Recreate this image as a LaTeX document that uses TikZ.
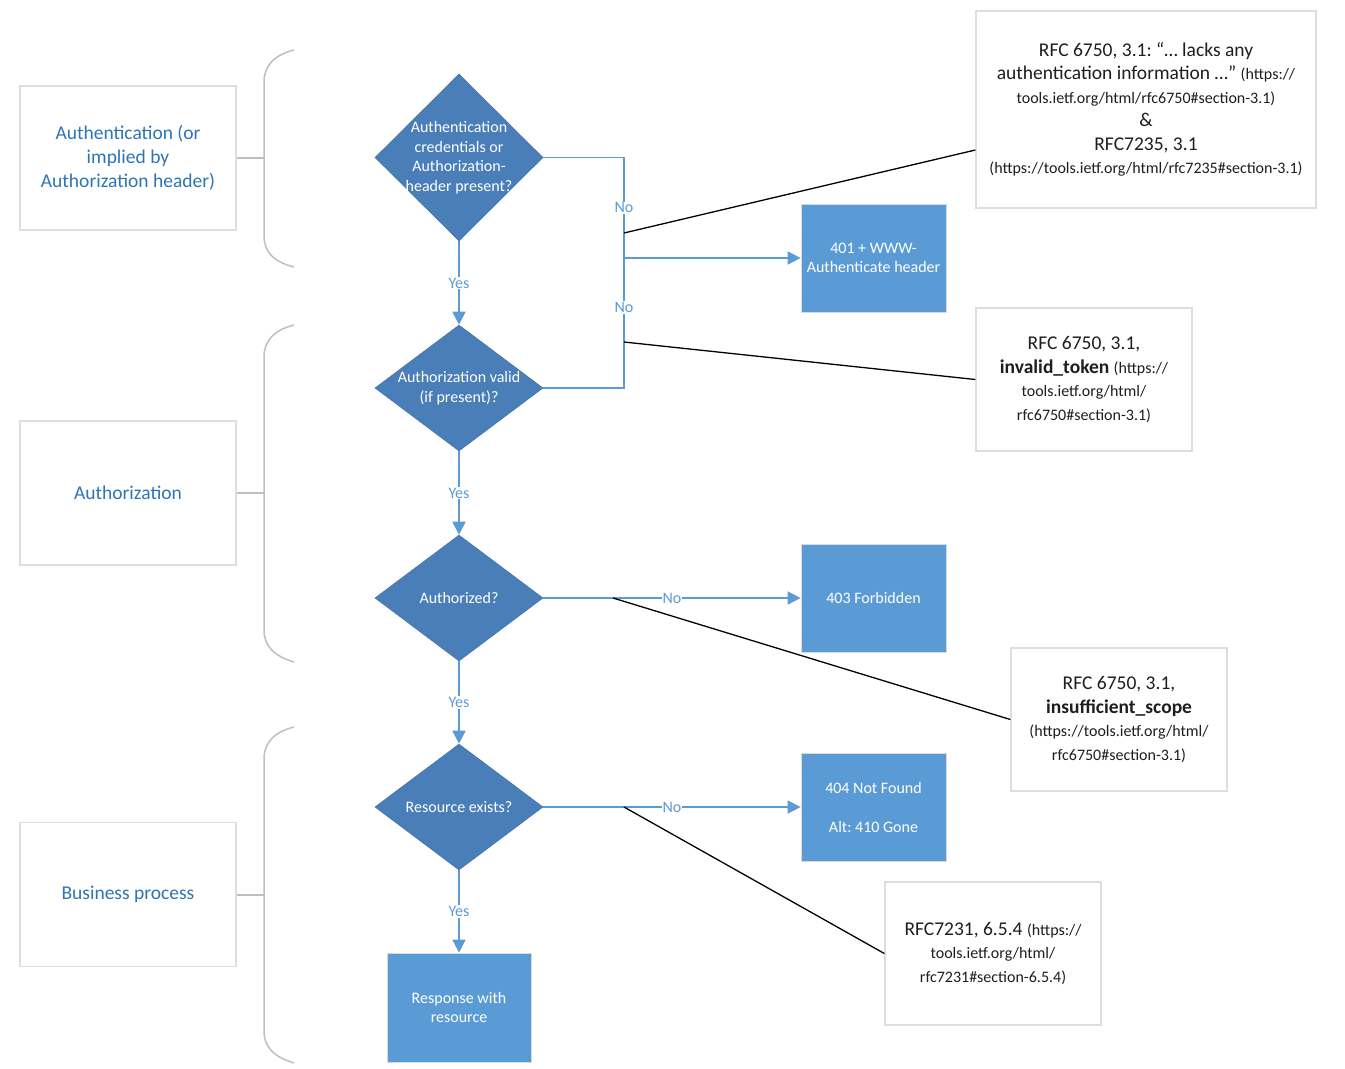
\documentclass[tikz,border=0pt]{standalone}
\usepackage{fontspec}
\setmainfont{Carlito}
\frenchspacing
\usetikzlibrary{shapes.geometric,arrows.meta,calc}
\definecolor{dia}{RGB}{74,126,184}
\definecolor{boxc}{RGB}{91,155,213}
\definecolor{linec}{RGB}{91,155,213}
\definecolor{labtext}{RGB}{46,117,182}
\definecolor{gborder}{RGB}{220,222,226}
\definecolor{bracec}{RGB}{191,191,191}
\definecolor{notetext}{RGB}{30,30,30}
\newcommand{\urlsz}[1]{{\fontsize{16}{23.5}\selectfont #1}}
\begin{document}
\begin{tikzpicture}[x={(1pt,0pt)},y={(0pt,-1pt)},
  decision/.style={shape=diamond, fill=dia, draw=dia!92!black, line width=0.6pt, minimum width=168pt, inner sep=0pt},
  dtext/.style={text=white, font=\fontsize{16}{19.5}\selectfont, align=center, inner sep=0pt},
  outbox/.style={rectangle, fill=boxc, draw=black!15, line width=0.8pt, minimum width=145pt, minimum height=108pt, text=white, font=\fontsize{16}{19.5}\selectfont, align=center},
  phase/.style={rectangle, draw=gborder, line width=1.3pt, fill=white, minimum width=216pt, minimum height=144pt, text=labtext, font=\fontsize{19.5}{24}\selectfont, align=center},
  note/.style={rectangle, draw=gborder, line width=1.3pt, fill=white, text=notetext, font=\fontsize{19.5}{23.5}\selectfont, align=center},
  flow/.style={draw=linec, line width=1.8pt, -{Triangle[length=13pt,width=13pt]}},
  flowline/.style={draw=linec, line width=1.8pt},
  yn/.style={fill=white, text=linec, font=\fontsize{16}{19}\selectfont, inner sep=1pt},
  callout/.style={draw=black, line width=1.3pt},
  bracestyle/.style={draw=bracec, line width=1.5pt}
]
\useasboundingbox[fill=white] (0,0) rectangle (1345,1069);

% phase boxes
\node[phase] (p1) at (128,158) {Authentication (or\\implied by\\Authorization header)};
\node[phase] (p2) at (128,493) {Authorization};
\node[phase] (p3) at (128,894.5) {Business process};

% braces
\draw[bracestyle] (294,50) .. controls (274,55) and (264,66) .. (264,82) -- (264,236) .. controls (264,252) and (274,262) .. (294,267);
\draw[bracestyle] (294,325) .. controls (274,330) and (264,341) .. (264,357) -- (264,630) .. controls (264,646) and (274,656) .. (294,662);
\draw[bracestyle] (294,727) .. controls (274,732) and (264,743) .. (264,759) -- (264,1031) .. controls (264,1047) and (274,1057) .. (294,1063);
\coordinate (t1) at (264,158);
\coordinate (t2) at (264,493);
\coordinate (t3) at (264,895);
\draw[bracestyle] (p1.east) -- (t1);
\draw[bracestyle] (p2.east) -- (t2);
\draw[bracestyle] (p3.east |- t3) -- (t3);

% decisions
\node[decision, minimum height=167pt, label={[dtext]center:Authentication\\credentials or\\Authorization-\\header present?}] (d1) at (459,157.5) {};
\node[decision, minimum height=126pt, label={[dtext]center:Authorization valid\\(if present)?}] (d2) at (459,388) {};
\node[decision, minimum height=126pt, label={[dtext]center:Authorized?}] (d3) at (459,598) {};
\node[decision, minimum height=126pt, label={[dtext]center:Resource exists?}] (d4) at (459,807) {};

% outcome boxes
\node[outbox] (b401) at (873.5,258) {401 + WWW-\\Authenticate header};
\node[outbox] (b403) at (873.5,598) {403 Forbidden};
\node[outbox] (b404) at (873.5,807) {404 Not Found\\[19.5pt]Alt: 410 Gone};
\node[outbox, minimum width=144pt, minimum height=109pt] (res) at (459,1007.5) {Response with\\resource};

% notes
\node[note, minimum width=340pt, minimum height=197pt] (n1) at (1146,109.5) {RFC 6750, 3.1: “… lacks any\\authentication information …” \urlsz{(https://}\\\urlsz{tools.ietf.org/html/rfc6750\#section-3.1)}\\\&\\RFC7235, 3.1\\\urlsz{(https://tools.ietf.org/html/rfc7235\#section-3.1)}};
\node[note, minimum width=216pt, minimum height=143pt] (n2) at (1084,379.5) {RFC 6750, 3.1,\\\textbf{invalid\_token} \urlsz{(https://}\\\urlsz{tools.ietf.org/html/}\\\urlsz{rfc6750\#section-3.1)}};
\node[note, minimum width=216pt, minimum height=143pt] (n3) at (1119,719.5) {RFC 6750, 3.1,\\\textbf{insufficient\_scope}\\\urlsz{(https://tools.ietf.org/html/}\\\urlsz{rfc6750\#section-3.1)}};
\node[note, minimum width=216pt, minimum height=143pt] (n4) at (993,953.5) {RFC7231, 6.5.4 \urlsz{(https://}\\\urlsz{tools.ietf.org/html/}\\\urlsz{rfc7231\#section-6.5.4)}};

% flow connectors
\coordinate (j) at (624,258);
\draw[flowline] (d1.east) -| (j) node[yn, pos=0.75] {No};
\draw[flowline] (d2.east) -| (j) node[yn, pos=0.81] {No};
\draw[flow] (j) -- (b401.west);
\draw[flow] (d1.south) -- node[yn] {Yes} (d2.north);
\draw[flow] (d2.south) -- node[yn] {Yes} (d3.north);
\draw[flow] (d3.south) -- node[yn] {Yes} (d4.north);
\draw[flow] (d4.south) -- node[yn] {Yes} (res.north);
\draw[flow] (d3.east) -- node[yn] {No} (b403.west);
\draw[flow] (d4.east) -- node[yn] {No} (b404.west);

% callouts
\coordinate (a1) at (624,233);
\coordinate (a2) at (624,342);
\coordinate (a3) at (613,598);
\coordinate (a4) at (624,807);
\draw[callout] (a1) -- ([yshift=-40.5pt]n1.west);
\draw[callout] (a2) -- (n2.west);
\draw[callout] (a3) -- (n3.west);
\draw[callout] (a4) -- (n4.west);
\end{tikzpicture}
\end{document}
